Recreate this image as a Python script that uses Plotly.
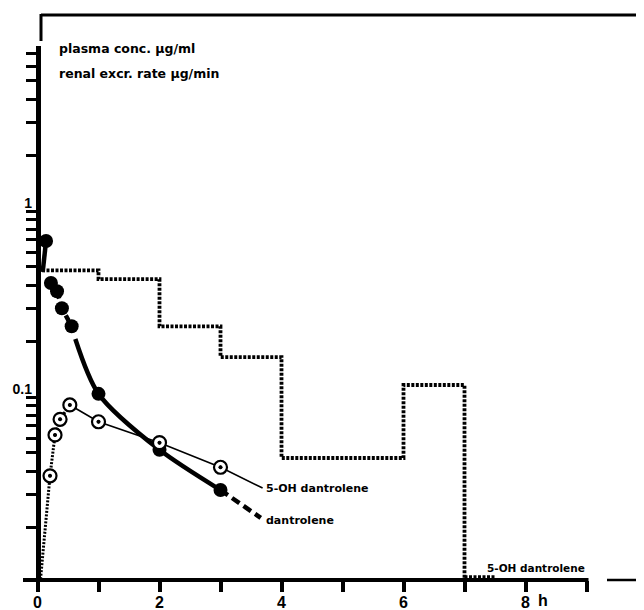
import plotly.graph_objects as go

# ---------------- data ----------------
# plasma concentration, dantrolene (filled circles), µg/ml
dan_t = [0.14, 0.22, 0.32, 0.40, 0.56, 1.0, 2.0, 3.0]
dan_c = [0.69, 0.41, 0.37, 0.30, 0.24, 0.104, 0.052, 0.0316]
# fitted dantrolene curve pieces
dan_early_t = [0.14, 0.085]
dan_early_c = [0.69, 0.47]
dan_mid_t = [0.22, 0.32, 0.40, 0.56]
dan_mid_c = [0.41, 0.37, 0.30, 0.24]
dan_fit_t = [0.62, 1.0, 2.0, 3.0]
dan_fit_c = [0.205, 0.104, 0.052, 0.0316]
dan_tail_t = [3.0, 3.66]
dan_tail_c = [0.0316, 0.0224]

# plasma concentration, 5-OH dantrolene (open circles), µg/ml
oh_t = [0.205, 0.287, 0.37, 0.53, 1.0, 2.0, 3.0]
oh_c = [0.0377, 0.0625, 0.0759, 0.0906, 0.0736, 0.0568, 0.0419]
oh_rise_t = [0.05, 0.205, 0.287, 0.37, 0.53]
oh_rise_c = [0.0105, 0.0377, 0.0625, 0.0759, 0.0906]
oh_fit_t = [0.53, 1.0, 2.0, 3.0, 3.69]
oh_fit_c = [0.0906, 0.0736, 0.0568, 0.0419, 0.0324]

# renal excretion rate (µg/min), step histogram
excr_edges = [0, 1, 2, 3, 4, 6, 7]
excr_rate = [0.48, 0.43, 0.24, 0.164, 0.047, 0.116]
excr_floor = 0.0105
# 5-OH dantrolene excretion (near zero)
oh_excr_t = [7.0, 7.5]
oh_excr_rate = [0.0108, 0.0108]

x_tickvals = [0, 1, 2, 3, 4, 5, 6, 7, 8, 9]
x_ticktext = ["0", "", "2", "", "4", "", "6", "", "8", ""]
y_tickvals = [0.02, 0.03, 0.04, 0.05, 0.06, 0.07, 0.08, 0.09,
              0.1, 0.2, 0.3, 0.4, 0.5, 0.6, 0.7, 0.8, 0.9,
              1, 2, 3, 4, 5, 6, 7]
y_ticktext = ["" for _ in y_tickvals]
y_ticktext[y_tickvals.index(0.1)] = "0.1"
y_ticktext[y_tickvals.index(1)] = "1"

# ---------------- layout geometry ----------------
# The page body has an 8px margin, so the figure starts at page (8, 8).
OFF = 8
PAGE_W, PAGE_H = 644, 610
W, H = PAGE_W - OFF, PAGE_H - OFF
# plot area in page pixels
PL, PR, PT, PB = 23, 644, 46, 580
ML, MR, MT, MB = PL - OFF, OFF + W - PR, PT - OFF, OFF + H - PB
PW, PH = PR - PL, PB - PT
X0PX, XPERH = 37.5, 61.0          # page pixel of t=0, pixels per hour
Y1PX, DEC = 211.0, 186.0          # page pixel of 1.0, pixels per decade
xr = [(PL - X0PX) / XPERH, (PR - X0PX) / XPERH]
yr = [(Y1PX - PB) / DEC, (Y1PX - PT) / DEC]


def pxx(px):
    return (px - PL) / PW


def pxy(py):
    return (PB - py) / PH


FONT = "DejaVu Sans"
NUMFONT = "Liberation Sans"
BLACK = "#000000"

# step trace
step_x = excr_edges + [excr_edges[-1]]
step_y = excr_rate + [excr_rate[-1], excr_floor]

fig = go.Figure()

fig.add_trace(go.Scatter(x=step_x, y=step_y, mode="lines", line_shape="hv",
                         line=dict(color=BLACK, width=3.8, dash="3px,1.5px"),
                         hoverinfo="skip", showlegend=False))
fig.add_trace(go.Scatter(x=oh_excr_t, y=oh_excr_rate, mode="lines",
                         line=dict(color=BLACK, width=3, dash="3px,1.5px"),
                         showlegend=False))

# dantrolene fitted curve
fig.add_trace(go.Scatter(x=dan_early_t, y=dan_early_c, mode="lines",
                         line=dict(color=BLACK, width=4.5), showlegend=False))
fig.add_trace(go.Scatter(x=dan_mid_t, y=dan_mid_c, mode="lines",
                         line=dict(color=BLACK, width=4.5, dash="6px,6px"),
                         showlegend=False))
fig.add_trace(go.Scatter(x=dan_fit_t, y=dan_fit_c, mode="lines",
                         line=dict(color=BLACK, width=4.5, shape="spline", smoothing=0.8),
                         showlegend=False))
fig.add_trace(go.Scatter(x=dan_tail_t, y=dan_tail_c, mode="lines",
                         line=dict(color=BLACK, width=4.5, dash="9px,5px"),
                         showlegend=False))

# 5-OH dantrolene lines
fig.add_trace(go.Scatter(x=oh_rise_t, y=oh_rise_c, mode="lines",
                         line=dict(color=BLACK, width=3, dash="2px,1.5px"),
                         showlegend=False))
fig.add_trace(go.Scatter(x=oh_fit_t, y=oh_fit_c, mode="lines",
                         line=dict(color=BLACK, width=1.6), showlegend=False))

# markers
fig.add_trace(go.Scatter(x=dan_t, y=dan_c, mode="markers",
                         marker=dict(symbol="circle", size=14, color=BLACK),
                         name="dantrolene", showlegend=False))
fig.add_trace(go.Scatter(x=oh_t, y=oh_c, mode="markers",
                         marker=dict(symbol="circle-dot", size=13, color="white",
                                     line=dict(color=BLACK, width=2.2)),
                         name="5-OH dantrolene", showlegend=False))
# centre dots of open circles
fig.add_trace(go.Scatter(x=oh_t, y=oh_c, mode="markers",
                         marker=dict(symbol="circle", size=4, color=BLACK),
                         showlegend=False, hoverinfo="skip"))

# axis line decorations
shapes = [
    # x axis baseline
    dict(type="line", xref="paper", yref="paper", x0=0, x1=pxx(X0PX + 9 * XPERH + 2),
         y0=0, y1=0, line=dict(color=BLACK, width=4)),
    # short separate baseline at right edge
    dict(type="line", xref="paper", yref="paper", x0=pxx(607), x1=1,
         y0=0, y1=0, line=dict(color=BLACK, width=2.5)),
    # top frame line
    dict(type="line", xref="paper", yref="paper", x0=pxx(41), x1=1,
         y0=pxy(15), y1=pxy(15), line=dict(color=BLACK, width=3)),
    dict(type="line", xref="paper", yref="paper", x0=pxx(41), x1=pxx(41),
         y0=pxy(14), y1=pxy(41), line=dict(color=BLACK, width=3)),
]

bold = dict(family=FONT, color=BLACK, weight="bold")
numbold = dict(family=NUMFONT, color=BLACK, weight="bold")
annotations = [
    dict(text="plasma conc. µg/ml", xref="paper", yref="paper", x=pxx(57), y=pxy(48),
         xanchor="left", yanchor="middle", showarrow=False, font=dict(size=12.5, **bold)),
    dict(text="renal excr. rate µg/min", xref="paper", yref="paper", x=pxx(57), y=pxy(73),
         xanchor="left", yanchor="middle", showarrow=False, font=dict(size=12.5, **bold)),
    dict(text="5-OH dantrolene", xref="paper", yref="paper", x=pxx(264), y=pxy(488),
         xanchor="left", yanchor="middle", showarrow=False, font=dict(size=11, **bold)),
    dict(text="dantrolene", xref="paper", yref="paper", x=pxx(264), y=pxy(520),
         xanchor="left", yanchor="middle", showarrow=False, font=dict(size=11, **bold)),
    dict(text="5-OH dantrolene", xref="paper", yref="paper", x=pxx(485), y=pxy(568),
         xanchor="left", yanchor="middle", showarrow=False, font=dict(size=10.5, **bold)),
    dict(text="h", xref="paper", yref="paper", x=pxx(536), y=pxy(600),
         xanchor="left", yanchor="middle", showarrow=False, font=dict(size=16, **numbold)),
]

fig.update_layout(
    width=W, height=H,
    margin=dict(l=ML, r=MR, t=MT, b=MB, pad=0, autoexpand=False),
    paper_bgcolor="white", plot_bgcolor="white",
    showlegend=False,
    shapes=shapes,
    annotations=annotations,
    xaxis=dict(range=xr, showgrid=False, zeroline=False, showline=False,
               automargin=False,
               tickmode="array", tickvals=x_tickvals, ticktext=x_ticktext,
               ticks="outside", ticklen=11, tickwidth=4, tickcolor=BLACK,
               ticklabelstandoff=-3,
               tickfont=dict(size=16, **numbold)),
    yaxis=dict(type="log", range=yr, showgrid=False, zeroline=False,
               automargin=False,
               anchor="free", position=pxx(X0PX),
               showline=True, linewidth=4.5, linecolor=BLACK,
               tickmode="array", tickvals=y_tickvals, ticktext=y_ticktext,
               ticks="outside", ticklen=10, tickwidth=3, tickcolor=BLACK,
               ticklabelshift=-8, ticklabelstandoff=-9,
               tickfont=dict(size=14, **numbold)),
)

fig.write_html("out.html")
